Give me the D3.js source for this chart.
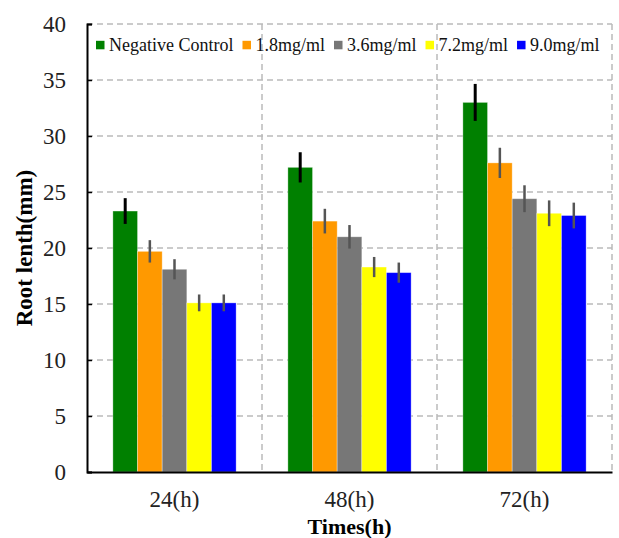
<!DOCTYPE html>
<html>
<head>
<meta charset="utf-8">
<script src="https://cdn.jsdelivr.net/npm/d3@7"></script>
<style>
  body { margin: 0; background: #fff; }
  text { font-family: "Liberation Serif", "Times New Roman", serif; }
</style>
</head>
<body>
<div id="chart"></div>
<script>
// data
let times = ["24(h)", "48(h)", "72(h)"];
let series = ["Negative Control", "1.8mg/ml", "3.6mg/ml", "7.2mg/ml", "9.0mg/ml"];
let colors = ["#008000", "#ff9900", "#777777", "#ffff00", "#0000ff"];
let means = [
    [23.3, 19.7, 18.1, 15.1, 15.1],
    [27.2, 22.4, 21.0, 18.3, 17.8],
    [33.0, 27.6, 24.4, 23.1, 22.9]
];
let errors = [
    [1.15, 1.0, 0.9, 0.75, 0.75],
    [1.35, 1.1, 1.05, 0.9, 0.9],
    [1.65, 1.35, 1.2, 1.15, 1.15]
];
let yTicks = [0, 5, 10, 15, 20, 25, 30, 35, 40];

let svgWidth = 619;
let svgHeight = 538;
let margin = { top: 24, right: 7, bottom: 66, left: 87 };
let width = svgWidth - margin.left - margin.right;
let height = svgHeight - margin.top - margin.bottom;

let svg = d3.select("#chart")
    .append("svg")
    .attr("width", svgWidth)
    .attr("height", svgHeight);

let g = svg.append("g")
    .attr("transform", `translate(${margin.left}, ${margin.top})`);

let x0 = d3.scaleBand().domain(times).range([0, width]);
let x1 = d3.scaleBand().domain(series)
    .range([0, x0.bandwidth()])
    .paddingOuter(1.05);
let y = d3.scaleLinear().domain([0, 40]).range([height, 0]);

// grid lines
g.append("g")
    .selectAll("line")
    .data(yTicks.slice(1))
    .enter()
    .append("line")
    .attr("x1", 0)
    .attr("x2", width)
    .attr("y1", d => y(d))
    .attr("y2", d => y(d))
    .attr("stroke", "#bbb")
    .attr("stroke-width", 1.5)
    .attr("stroke-dasharray", "6,4");

g.append("g")
    .selectAll("line")
    .data(times)
    .enter()
    .append("line")
    .attr("x1", d => x0(d) + x0.bandwidth())
    .attr("x2", d => x0(d) + x0.bandwidth())
    .attr("y1", 0)
    .attr("y2", height)
    .attr("stroke", "#bbb")
    .attr("stroke-width", 1.5)
    .attr("stroke-dasharray", "6,4");

// bars
let groups = g.selectAll(".grp")
    .data(times)
    .enter()
    .append("g")
    .attr("class", "grp")
    .attr("transform", d => `translate(${x0(d)}, 0)`);

groups.selectAll("rect")
    .data((d, i) => series.map((s, j) => ({ s: s, v: means[i][j], e: errors[i][j], c: colors[j], k: j })))
    .enter()
    .append("rect")
    .attr("x", d => x1(d.s))
    .attr("y", d => y(d.v))
    .attr("width", x1.bandwidth())
    .attr("height", d => height - y(d.v))
    .attr("fill", d => d.c)
    .attr("stroke", "#fff")
    .attr("stroke-opacity", 0.4)
    .attr("stroke-width", 0.8);

groups.selectAll(".err")
    .data((d, i) => series.map((s, j) => ({ s: s, v: means[i][j], e: errors[i][j], k: j })))
    .enter()
    .append("line")
    .attr("class", "err")
    .attr("x1", d => x1(d.s) + x1.bandwidth() / 2)
    .attr("x2", d => x1(d.s) + x1.bandwidth() / 2)
    .attr("y1", d => y(d.v + d.e))
    .attr("y2", d => y(d.v - d.e))
    .attr("stroke", d => d.k === 0 ? "#000" : "#555")
    .attr("stroke-width", d => d.k === 0 ? 3 : 2.5);

// axes
let yAxis = d3.axisLeft(y).tickValues(yTicks)
    .tickSizeInner(-5).tickSizeOuter(-5).tickPadding(21);
let yG = g.append("g").call(yAxis);
yG.select(".domain").attr("stroke-width", 2);
yG.selectAll(".tick line").attr("stroke-width", 1.5);
yG.selectAll("text").attr("font-size", "23px").attr("fill", "#222")
    .style("font-family", "'Liberation Serif', serif");

let xAxis = d3.axisBottom(x0).tickSize(0).tickPadding(19);
let xG = g.append("g")
    .attr("transform", `translate(0, ${height})`)
    .call(xAxis);
xG.select(".domain").attr("stroke-width", 2);
xG.selectAll("text").attr("font-size", "23px").attr("fill", "#222")
    .style("font-family", "'Liberation Serif', serif");

// axis titles
svg.append("text")
    .attr("transform", `translate(32, ${margin.top + height / 2}) rotate(-90)`)
    .attr("text-anchor", "middle")
    .attr("font-size", "23px")
    .attr("font-weight", "bold")
    .text("Root lenth(mm)");

svg.append("text")
    .attr("x", margin.left + width / 2)
    .attr("y", 534)
    .attr("text-anchor", "middle")
    .attr("font-size", "22px")
    .attr("font-weight", "bold")
    .text("Times(h)");

// legend
let legend = svg.append("g").attr("transform", "translate(96, 45)");
let lx = 0;
series.forEach(function(s, i) {
    let item = legend.append("g").attr("transform", `translate(${lx}, 0)`);
    item.append("rect")
        .attr("x", 0)
        .attr("y", -4.2)
        .attr("width", 8.5)
        .attr("height", 8.5)
        .attr("fill", colors[i]);
    let t = item.append("text")
        .attr("x", 13)
        .attr("y", 5.5)
        .attr("font-size", "18px")
        .attr("fill", "#111")
        .text(s);
    lx += 13 + t.node().getComputedTextLength() + 9;
});
</script>
</body>
</html>
